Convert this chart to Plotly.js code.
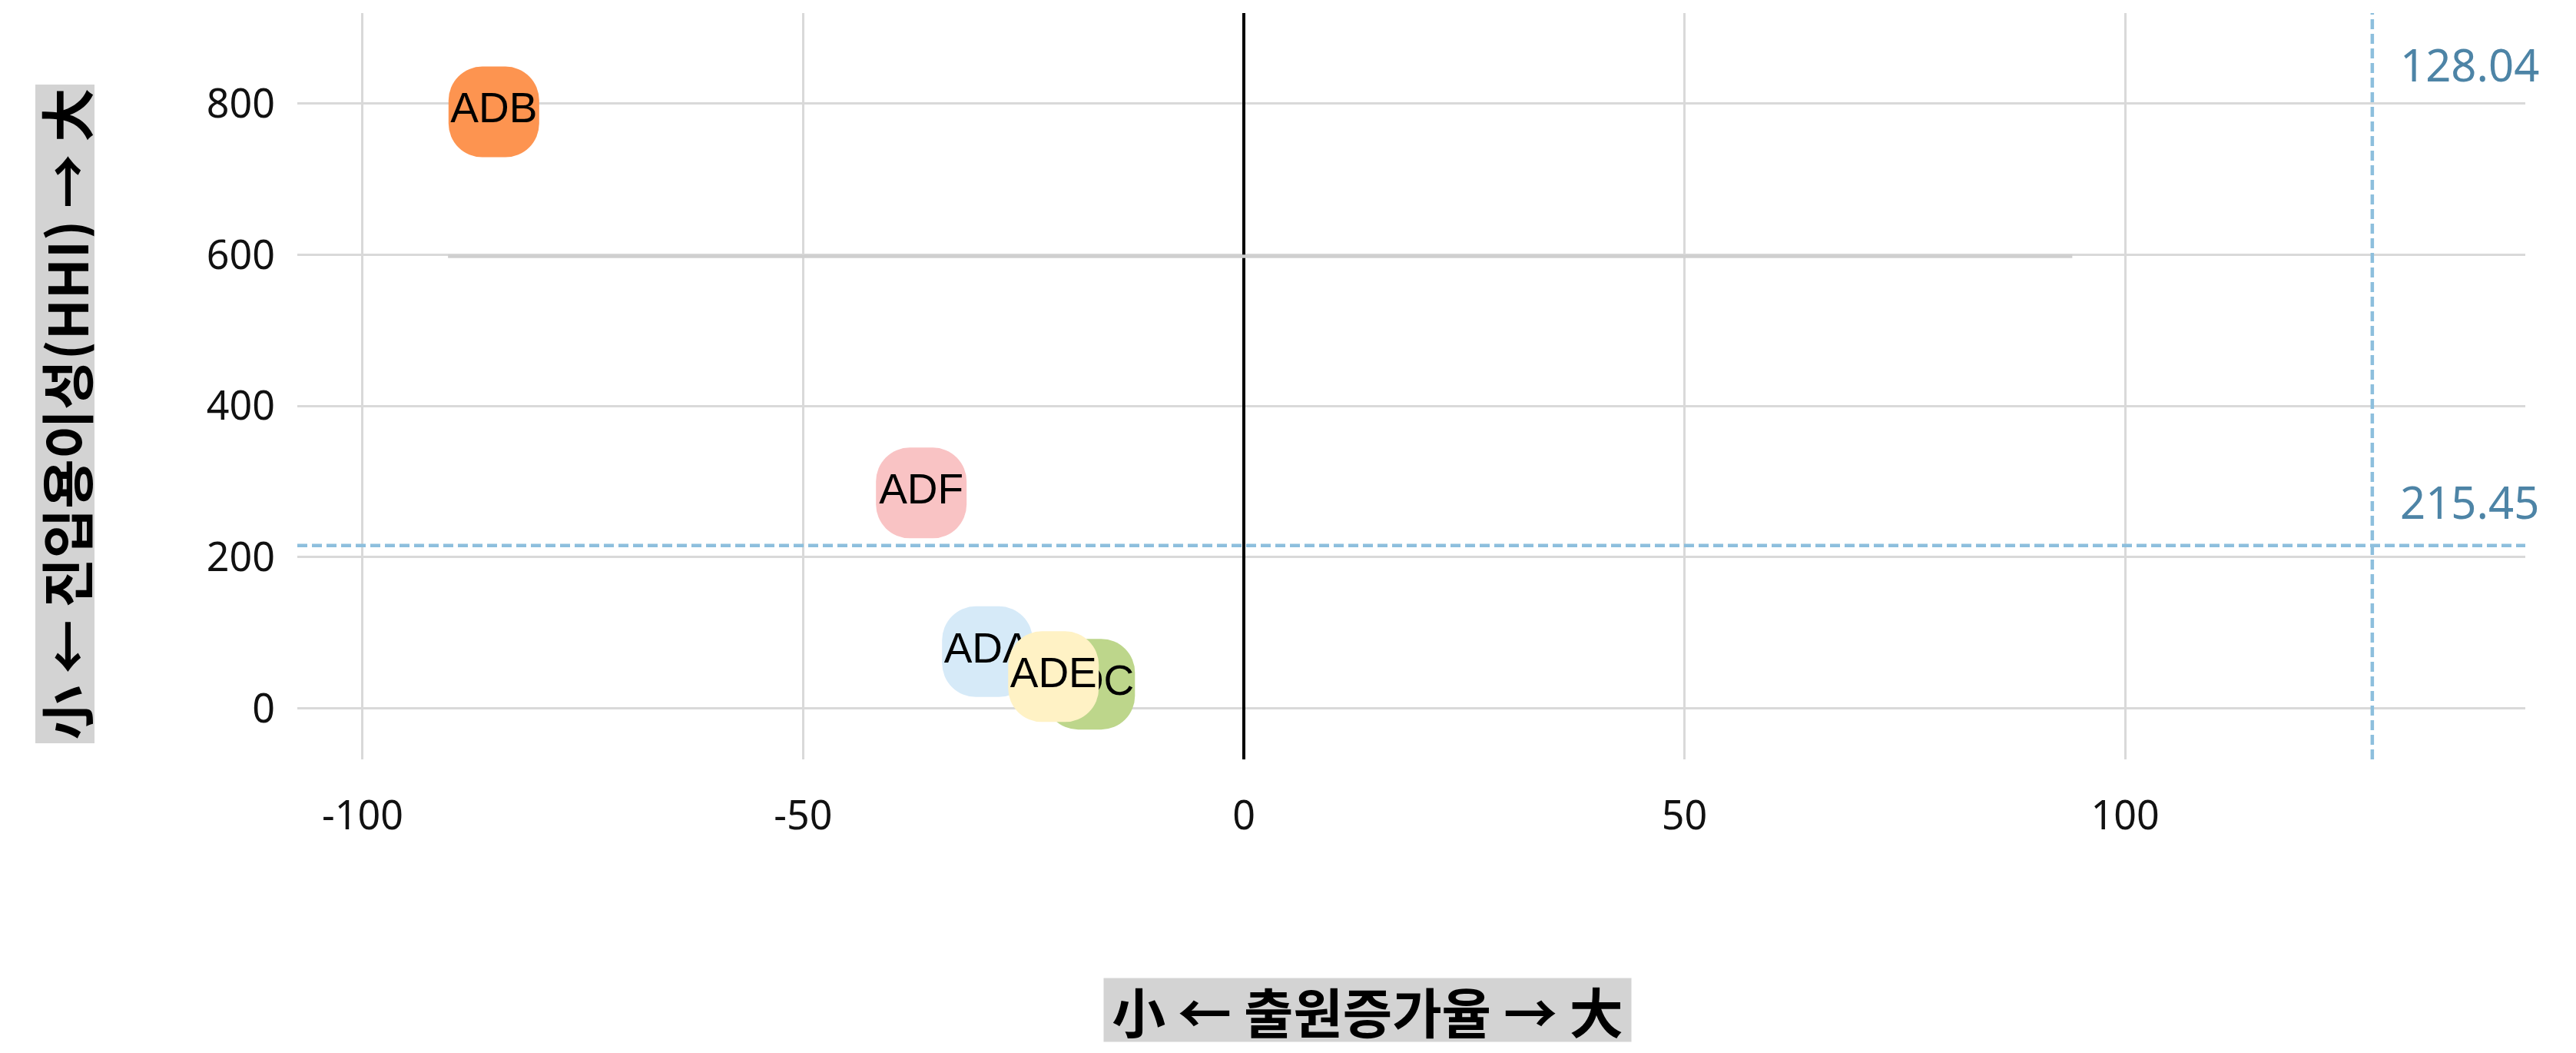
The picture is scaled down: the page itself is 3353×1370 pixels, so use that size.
<!DOCTYPE html>
<html>
<head>
<meta charset="utf-8">
<script src="https://cdn.plot.ly/plotly-3.0.1.min.js"></script>
<style>
  html, body { margin: 0; padding: 0; background: #ffffff; }
  #chart { width: 3353px; height: 1370px; }
  .scatterlayer path.point { stroke-linejoin: round !important; }
</style>
</head>
<body>
<div id="chart"></div>
<script>
// ---- data ----
const names = ['ADB', 'ADF', 'ADA', 'ADC', 'ADE'];
const growthRate = [-85.1, -36.6, -29.1, -17.5, -21.6];   // 출원증가율
const hhi = [789, 285, 75, 32, 42];                        // 진입용이성(HHI)
const avgGrowth = 128.04;
const avgHHI = 215.45;
const xTickVals = [-100, -50, 0, 50, 100];
const xTickText = ['-100', '-50', '0', '50', '100'];
const yTickVals = [0, 200, 400, 600, 800];
const yTickText = ['0', '200', '400', '600', '800'];
const greyLineX = [-90.3, 94];
const greyLineY = 600;
const xTitle = '小 ← 출원증가율 → 大';
const yTitle = '小 ← 진입용이성(HHI) → 大';

// ---- styles ----
const markerColors = {
  ADB: '#FD9450',
  ADF: '#F9C3C4',
  ADA: '#D6EAF8',
  ADC: '#BDD68B',
  ADE: '#FFF2C5'
};
const guideColor = '#8DBFDD';
const guideTextColor = '#4D84A6';
const gridColor = '#D9D9D9';

const traces = names.map((n, i) => ({
  type: 'scatter',
  mode: 'markers+text',
  x: [growthRate[i]],
  y: [hhi[i]],
  text: [n],
  textposition: 'middle center',
  textfont: { family: 'Liberation Sans, Arial, sans-serif', size: 55, color: '#000000' },
  marker: {
    symbol: 'square',
    size: 30,
    color: markerColors[n],
    line: { color: markerColors[n], width: 88 }
  },
  hoverinfo: 'skip',
  showlegend: false,
  cliponaxis: false
}));

const layout = {
  width: 3353,
  height: 1370,
  margin: { l: 387, r: 66, t: 17, b: 382 },
  paper_bgcolor: '#ffffff',
  plot_bgcolor: '#ffffff',
  showlegend: false,
  font: { family: 'Noto Sans, Noto Sans CJK KR, sans-serif', color: '#111111' },
  xaxis: {
    range: [-107.4, 145.4],
    tickvals: xTickVals,
    ticktext: xTickText,
    tickfont: { size: 52, color: '#111111', family: 'Noto Sans, sans-serif' },
    showgrid: true,
    gridcolor: gridColor,
    gridwidth: 3,
    zeroline: true,
    zerolinecolor: '#000000',
    zerolinewidth: 4,
    showline: false,
    ticks: '',
    ticklabelstandoff: 38
  },
  yaxis: {
    range: [-67.5, 919.7],
    tickvals: yTickVals,
    ticktext: yTickText,
    tickfont: { size: 52, color: '#111111', family: 'Noto Sans, sans-serif' },
    showgrid: true,
    gridcolor: gridColor,
    gridwidth: 3,
    zeroline: false,
    showline: false,
    ticks: '',
    ticklabelstandoff: 28
  },
  shapes: [
    {
      type: 'line', layer: 'between',
      xref: 'x', yref: 'y',
      x0: greyLineX[0], x1: greyLineX[1], y0: greyLineY - 2, y1: greyLineY - 2,
      line: { color: '#CFCFCF', width: 4.5 }
    },
    {
      type: 'line', layer: 'above',
      xref: 'x', yref: 'paper',
      x0: avgGrowth, x1: avgGrowth, y0: 0, y1: 1,
      line: { color: guideColor, width: 4.5, dash: '13px,6px' }
    },
    {
      type: 'line', layer: 'above',
      xref: 'paper', yref: 'y',
      x0: 0, x1: 1, y0: avgHHI, y1: avgHHI,
      line: { color: guideColor, width: 4.5, dash: '13px,6px' }
    }
  ],
  annotations: [
    {
      xref: 'x', yref: 'paper',
      x: avgGrowth, y: 1,
      xanchor: 'left', yanchor: 'middle',
      xshift: 34, yshift: -66,
      text: avgGrowth.toFixed(2),
      showarrow: false,
      font: { size: 58, color: guideTextColor, family: 'Noto Sans, sans-serif' }
    },
    {
      xref: 'x', yref: 'y',
      x: avgGrowth, y: avgHHI,
      xanchor: 'left', yanchor: 'middle',
      xshift: 34, yshift: 57,
      text: avgHHI.toFixed(2),
      showarrow: false,
      font: { size: 58, color: guideTextColor, family: 'Noto Sans, sans-serif' }
    },
    {
      xref: 'paper', yref: 'paper',
      x: 0.4803, y: -0.3357,
      xanchor: 'center', yanchor: 'middle',
      text: '<b>' + xTitle + '</b>',
      showarrow: false,
      bgcolor: '#D3D3D3',
      borderpad: 0,
      width: 686,
      height: 82,
      font: { size: 70, color: '#000000', family: 'Noto Sans CJK KR, sans-serif' }
    },
    {
      xref: 'paper', yref: 'paper',
      x: -0.1043, y: 0.4624,
      xanchor: 'center', yanchor: 'middle',
      textangle: -90,
      text: '<b>' + yTitle + '</b>',
      showarrow: false,
      bgcolor: '#D3D3D3',
      borderpad: 0,
      width: 856,
      height: 76,
      font: { size: 70, color: '#000000', family: 'Noto Sans CJK KR, sans-serif' }
    }
  ]
};

Plotly.newPlot('chart', traces, layout, { staticPlot: true, displayModeBar: false });
</script>
</body>
</html>
